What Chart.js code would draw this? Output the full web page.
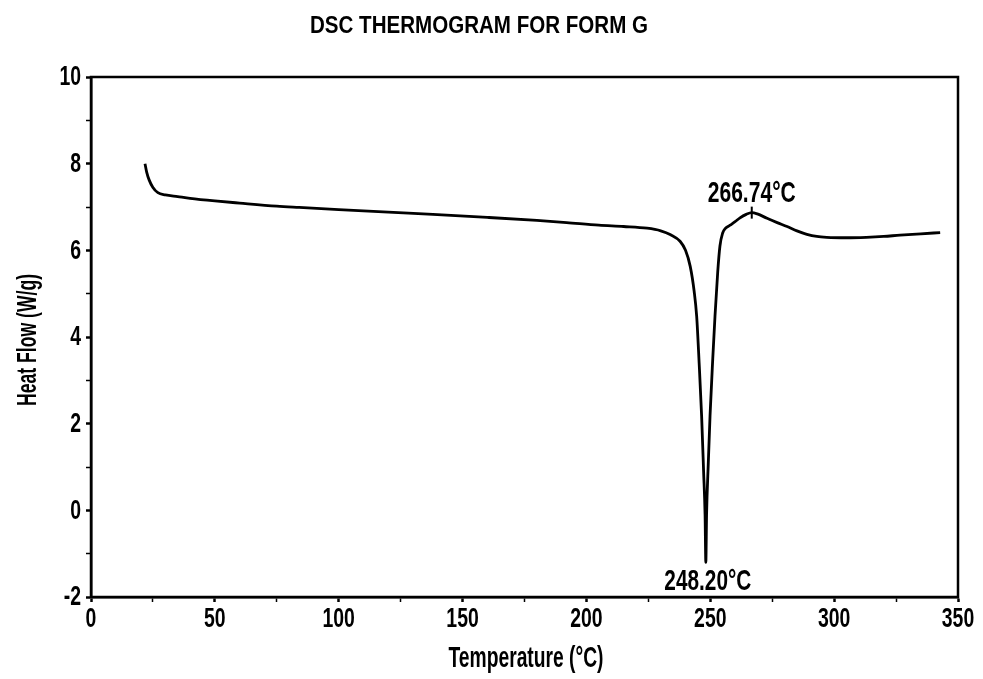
<!DOCTYPE html>
<html>
<head>
<meta charset="utf-8">
<script src="https://cdn.jsdelivr.net/npm/chart.js@4/dist/chart.umd.min.js"></script>
<style>
html,body{margin:0;padding:0;background:#fff;}
#wrap{width:983px;height:679px;position:relative;}
</style>
</head>
<body>
<div id="wrap"><canvas id="c" width="983" height="679"></canvas></div>
<script>
// ---- data ----
const chartTitle = "DSC THERMOGRAM FOR FORM G";
const xTitle = "Temperature (°C)";
const yTitle = "Heat Flow (W/g)";
const temperature = [21.8,22.5,23.5,25,27,30,35,40,50,60,75,84,100,120,138,160,180,192,205,215,224.5,230,234,237.8,240,241.9,243.5,244.5,245.5,246.5,247.3,247.9,248.2,248.5,249.2,249.9,251,251.9,253,253.9,255,256,258,260,262,264.5,266.74,269,272.9,277,281,285,289,293,297,305,313,320,326.6,335,342.8];
const heatFlow =    [8.00,7.80,7.62,7.45,7.33,7.28,7.24,7.20,7.14,7.09,7.02,6.99,6.94,6.88,6.83,6.76,6.69,6.64,6.58,6.55,6.51,6.45,6.36,6.21,6.00,5.63,5.05,4.48,3.40,2.18,0.90,-0.11,-1.20,-0.10,1.10,2.18,3.50,4.48,5.50,6.10,6.40,6.50,6.58,6.66,6.75,6.83,6.87,6.84,6.74,6.64,6.55,6.45,6.37,6.32,6.30,6.29,6.30,6.32,6.35,6.38,6.41];
const peakLabels = [{t:266.74, v:6.87, text:"266.74°C", pos:"above"},{t:248.20, v:-1.20, text:"248.20°C", pos:"axis"}];
const xMin=0, xMax=350, xStep=25, xLabelEvery=50;
const yMin=-2, yMax=10, yStep=1, yLabelEvery=2;

const FONT = "'Liberation Sans','Arimo',Arial,sans-serif";

const points = temperature.map((t,i)=>({x:t,y:heatFlow[i]}));

// draw text condensed horizontally (scanned plot used a tall condensed face)
function condensedText(ctx, text, x, y, size, sx, align, baseline, targetW){
  ctx.save();
  ctx.font = "bold "+size+"px "+FONT;
  if(targetW){ sx = targetW / ctx.measureText(text).width; }
  ctx.textAlign = align; ctx.textBaseline = baseline;
  ctx.translate(x,y); ctx.scale(sx,1);
  ctx.fillText(text,0,0);
  ctx.restore();
}

const decor = {
  id:'decor',
  afterDraw(chart){
    const ctx=chart.ctx, a=chart.chartArea, xs=chart.scales.x, ys=chart.scales.y;
    ctx.save();
    // frame
    ctx.strokeStyle='#000'; ctx.lineWidth=2.5;
    ctx.strokeRect(a.left,a.top,a.right-a.left,a.bottom-a.top);
    ctx.fillStyle='#000';
    // tick labels from scale ticks
    xs.ticks.forEach(tk=>{
      if(tk.value % xLabelEvery !== 0) return;
      condensedText(ctx, String(tk.value), xs.getPixelForValue(tk.value), a.bottom+9, 27, 0.72, 'center','top');
    });
    ys.ticks.forEach(tk=>{
      if(tk.value % yLabelEvery !== 0) return;
      condensedText(ctx, String(tk.value), a.left-10, ys.getPixelForValue(tk.value)+1, 27, 0.72, 'right','middle');
    });
    // title
    condensedText(ctx, chartTitle, 479, 33, 24, null, 'center','alphabetic', 338);
    // x title
    condensedText(ctx, xTitle, 526, 667, 29, null, 'center','alphabetic', 155);
    // y title
    ctx.save(); ctx.translate(36,340); ctx.rotate(-Math.PI/2);
    condensedText(ctx, yTitle, 0, 0, 27, null, 'center','alphabetic', 132);
    ctx.restore();
    // peak annotations
    peakLabels.forEach(p=>{
      const px=xs.getPixelForValue(p.t), py=ys.getPixelForValue(p.v);
      if(p.pos==='above'){
        ctx.lineWidth=2; ctx.beginPath(); ctx.moveTo(px,py-6); ctx.lineTo(px,py+6); ctx.stroke();
        condensedText(ctx, p.text, px, py-11, 30, null, 'center','alphabetic', 88);
      } else {
        condensedText(ctx, p.text, px+2, a.bottom-7, 30, null, 'center','alphabetic', 87);
      }
    });
    ctx.restore();
  }
};

new Chart(document.getElementById('c'),{
  type:'line',
  data:{datasets:[{data:points,borderColor:'#000',borderWidth:2.8,pointRadius:0,fill:false,cubicInterpolationMode:'monotone'}]},
  options:{
    responsive:false,animation:false,
    layout:{padding:{top:77,right:25,left:0,bottom:0}},
    plugins:{legend:{display:false},tooltip:{enabled:false},title:{display:false}},
    scales:{
      x:{type:'linear',min:xMin,max:xMax,
        afterFit(s){s.height=82;},
        border:{display:true,color:'#000',width:2.5},
        grid:{drawOnChartArea:false,drawTicks:true,tickLength:5,color:'#000',tickColor:'#000',
              tickWidth:(c)=> (c.tick && c.tick.value%xLabelEvery===0)?2.5:1.5},
        ticks:{display:false,stepSize:xStep,autoSkip:false}
      },
      y:{type:'linear',min:yMin,max:yMax,
        afterFit(s){s.width=91;},
        border:{display:true,color:'#000',width:2.5},
        grid:{drawOnChartArea:false,drawTicks:true,tickLength:5,color:'#000',tickColor:'#000',
              tickWidth:(c)=> (c.tick && c.tick.value%yLabelEvery===0)?2.5:1.5},
        ticks:{display:false,stepSize:yStep,autoSkip:false}
      }
    }
  },
  plugins:[decor]
});
</script>
</body>
</html>
